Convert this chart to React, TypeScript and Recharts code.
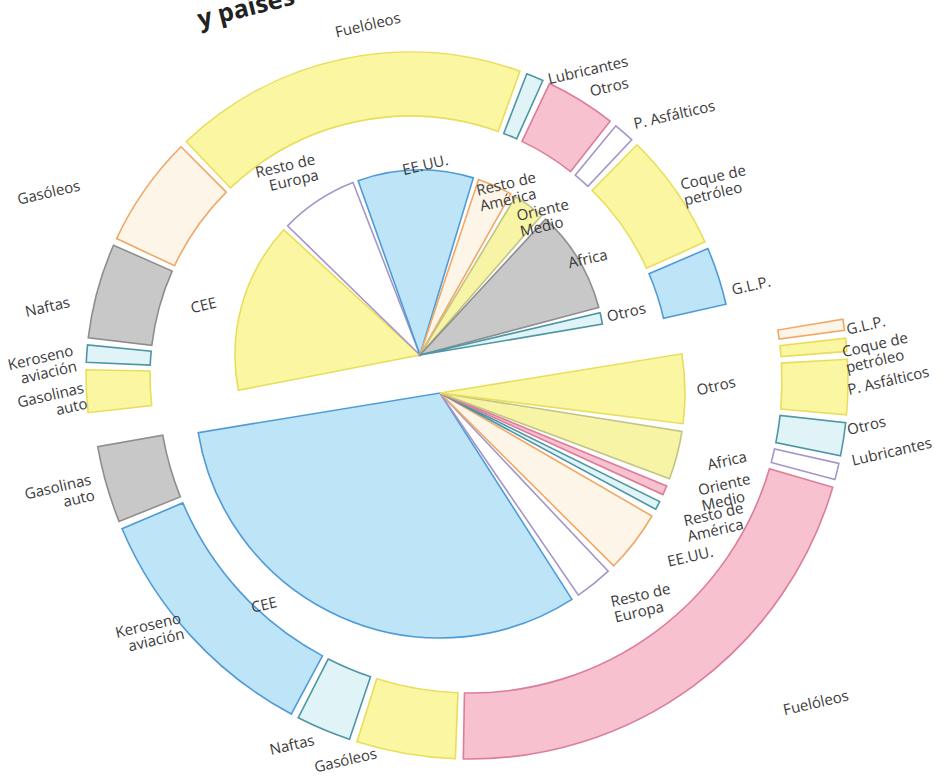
import React from "react";
import { PieChart, Pie, Cell } from "recharts";

// Productos petrolíferos: reparto por productos (anillos) y por países (tartas)
const products = [
  "Gasolinas auto",
  "Keroseno aviación",
  "Naftas",
  "Gasóleos",
  "Fuelóleos",
  "Lubricantes",
  "Otros",
  "P. Asfálticos",
  "Coque de petróleo",
  "G.L.P.",
];
const regions = [
  "CEE",
  "Resto de Europa",
  "EE.UU.",
  "Resto de América",
  "Oriente Medio",
  "Africa",
  "Otros",
];

// upper half (%)
const importsByProduct = [4.7, 1.9, 10.5, 12.3, 39.2, 1.9, 7.8, 2.3, 13, 6.4];
const importsByRegion = [31.3, 14.3, 21.2, 6.4, 5.8, 18.9, 2.1];
// lower half (%)
const exportsByProduct = [7, 23, 5, 9, 44.3, 1.5, 3, 5, 1.2, 1];
const exportsByRegion = [67, 5.3, 8.7, 1.2, 1.3, 6.8, 9.7];

const title = "y países";

const SW = {
  yellow: { fill: "#fbf6a2", stroke: "#e8de5c" },
  olive: { fill: "#f8f4a6", stroke: "#c2c483" },
  cream: { fill: "#fdf5e7", stroke: "#f0a868" },
  blue: { fill: "#bde4f7", stroke: "#4f9bd6" },
  cyan: { fill: "#e0f4f8", stroke: "#4f96a4" },
  pink: { fill: "#f7c1cf", stroke: "#dc7d9b" },
  gray: { fill: "#c9c8c8", stroke: "#8e8e8e" },
  white: { fill: "#ffffff", stroke: "#a596c8" },
};

const upperRingStyle = [SW.yellow, SW.cyan, SW.gray, SW.cream, SW.yellow, SW.cyan, SW.pink, SW.white, SW.yellow, SW.blue];
const upperPieStyle = [SW.yellow, SW.white, SW.blue, SW.cream, SW.olive, SW.gray, SW.cyan];
const lowerRingStyle = [SW.gray, SW.blue, SW.cyan, SW.yellow, SW.pink, SW.white, SW.cyan, SW.yellow, SW.yellow, SW.cream];
const lowerPieStyle = [SW.blue, SW.white, SW.cream, SW.cyan, SW.pink, SW.olive, SW.yellow];

const toRows = (names: string[], values: number[]) =>
  names.map((name, i) => ({ name, value: values[i] }));

const splitName = (name: string) => {
  if (name.startsWith("P. ") || !name.includes(" ")) return [name];
  const de = name.indexOf(" de ");
  if (de >= 0) return [name.slice(0, de + 3), name.slice(de + 4)];
  const sp = name.indexOf(" ");
  return [name.slice(0, sp), name.slice(sp + 1)];
};

const RAD = Math.PI / 180;
const FONT = "'Open Sans', sans-serif";

type Nudge = Record<string, [number, number]>;

// label sits just outside the sector, then gets a small hand nudge like the printed figure
const makeLabel = (gap: number, nudges: Nudge) => (p: any) => {
  const name: string = p.name ?? p.payload?.name;
  const a = p.midAngle * RAD;
  const r = p.outerRadius + gap;
  const c = Math.cos(a);
  let x = p.cx + r * c;
  let y = p.cy - r * Math.sin(a);
  const anchor = c > 0.3 ? "start" : c < -0.3 ? "end" : "middle";
  const n = nudges[name];
  if (n) {
    x += n[0];
    y += n[1];
  }
  const lines = splitName(name);
  const lh = 16;
  return (
    <text
      key={name}
      x={x}
      y={y}
      textAnchor={anchor}
      fill="#3b3b3b"
      fontSize={15}
      fontFamily={FONT}
      transform={`rotate(-13 ${x} ${y})`}
    >
      {lines.map((l, i) => (
        <tspan key={i} x={x} dy={i === 0 ? -((lines.length - 1) * lh) / 2 + 5 : lh}>
          {l}
        </tspan>
      ))}
    </text>
  );
};

const upperRingNudge: Nudge = {
  "Gasolinas auto": [5, 4],
  "Keroseno aviación": [-6, 5],
  "Naftas": [-22, 13],
  "Gasóleos": [-60, -1],
  "Fuelóleos": [26, -28],
  "Lubricantes": [11, 8],
  "Otros": [6, -4],
  "P. Asfálticos": [6, -4],
  "Coque de petróleo": [2, 6],
  "G.L.P.": [8, 16],
};
const upperPieNudge: Nudge = {
  "CEE": [-18, 0],
  "Resto de Europa": [3, -27],
  "EE.UU.": [10, 3],
  "Resto de América": [-20, 20],
  "Oriente Medio": [-15, 25],
  "Africa": [-17, 8],
  "Otros": [-2, 0],
};
const lowerRingNudge: Nudge = {
  "Gasolinas auto": [-8, 1],
  "Keroseno aviación": [-4, -14],
  "Naftas": [-7, 5],
  "Gasóleos": [-59, 1],
  "Fuelóleos": [86, 20],
  "Lubricantes": [9, -12],
  "Otros": [-2, -10],
  "P. Asfálticos": [-6, 3],
  "Coque de petróleo": [-8, 16],
  "G.L.P.": [-3, 6],
};
const lowerPieNudge: Nudge = {
  "CEE": [-60, -22],
  "Resto de Europa": [14, 20],
  "EE.UU.": [27, 15],
  "Resto de América": [21, 20],
  "Oriente Medio": [28, 5],
  "Africa": [23, 8],
  "Otros": [4, 2],
};

export default function App() {
  return (
    <div style={{ position: "absolute", left: 0, top: 0, width: 942, height: 779, background: "#fff" }}>
      <PieChart width={942} height={779} margin={{ top: 0, right: 0, bottom: 0, left: 0 }}>
        <Pie
          data={toRows(products, importsByProduct)}
          dataKey="value"
          nameKey="name"
          cx={410}
          cy={376}
          innerRadius={260}
          outerRadius={324}
          startAngle={186.5}
          endAngle={12.8}
          paddingAngle={1.3}
          label={makeLabel(6, upperRingNudge)}
          labelLine={false}
          isAnimationActive={false}
        >
          {upperRingStyle.map((s, i) => (
            <Cell key={i} fill={s.fill} stroke={s.stroke} strokeWidth={1.6} />
          ))}
        </Pie>
        <Pie
          data={toRows(regions, importsByRegion)}
          dataKey="value"
          nameKey="name"
          cx={420}
          cy={355}
          innerRadius={0}
          outerRadius={185}
          startAngle={191}
          endAngle={9.6}
          paddingAngle={1.7}
          label={makeLabel(8, upperPieNudge)}
          labelLine={false}
          isAnimationActive={false}
        >
          {upperPieStyle.map((s, i) => (
            <Cell key={i} fill={s.fill} stroke={s.stroke} strokeWidth={1.6} />
          ))}
        </Pie>
        <Pie
          data={toRows(products, exportsByProduct)}
          dataKey="value"
          nameKey="name"
          cx={470}
          cy={381}
          innerRadius={312}
          outerRadius={378}
          startAngle={190}
          endAngle={369.4}
          paddingAngle={1.2}
          label={makeLabel(6, lowerRingNudge)}
          labelLine={false}
          isAnimationActive={false}
        >
          {lowerRingStyle.map((s, i) => (
            <Cell key={i} fill={s.fill} stroke={s.stroke} strokeWidth={1.6} />
          ))}
        </Pie>
        <Pie
          data={toRows(regions, exportsByRegion)}
          dataKey="value"
          nameKey="name"
          cx={440}
          cy={393}
          innerRadius={0}
          outerRadius={245}
          startAngle={189.3}
          endAngle={369.2}
          paddingAngle={1.8}
          label={makeLabel(8, lowerPieNudge)}
          labelLine={false}
          isAnimationActive={false}
        >
          {lowerPieStyle.map((s, i) => (
            <Cell key={i} fill={s.fill} stroke={s.stroke} strokeWidth={1.6} />
          ))}
        </Pie>
      </PieChart>
      <svg width={942} height={60} style={{ position: "absolute", left: 0, top: 0, pointerEvents: "none" }}>
        <text
          x={200}
          y={28}
          fontSize={25}
          fontWeight="bold"
          fontFamily={FONT}
          fill="#222"
          transform="rotate(-14 200 28)"
        >
          {title}
        </text>
      </svg>
    </div>
  );
}
